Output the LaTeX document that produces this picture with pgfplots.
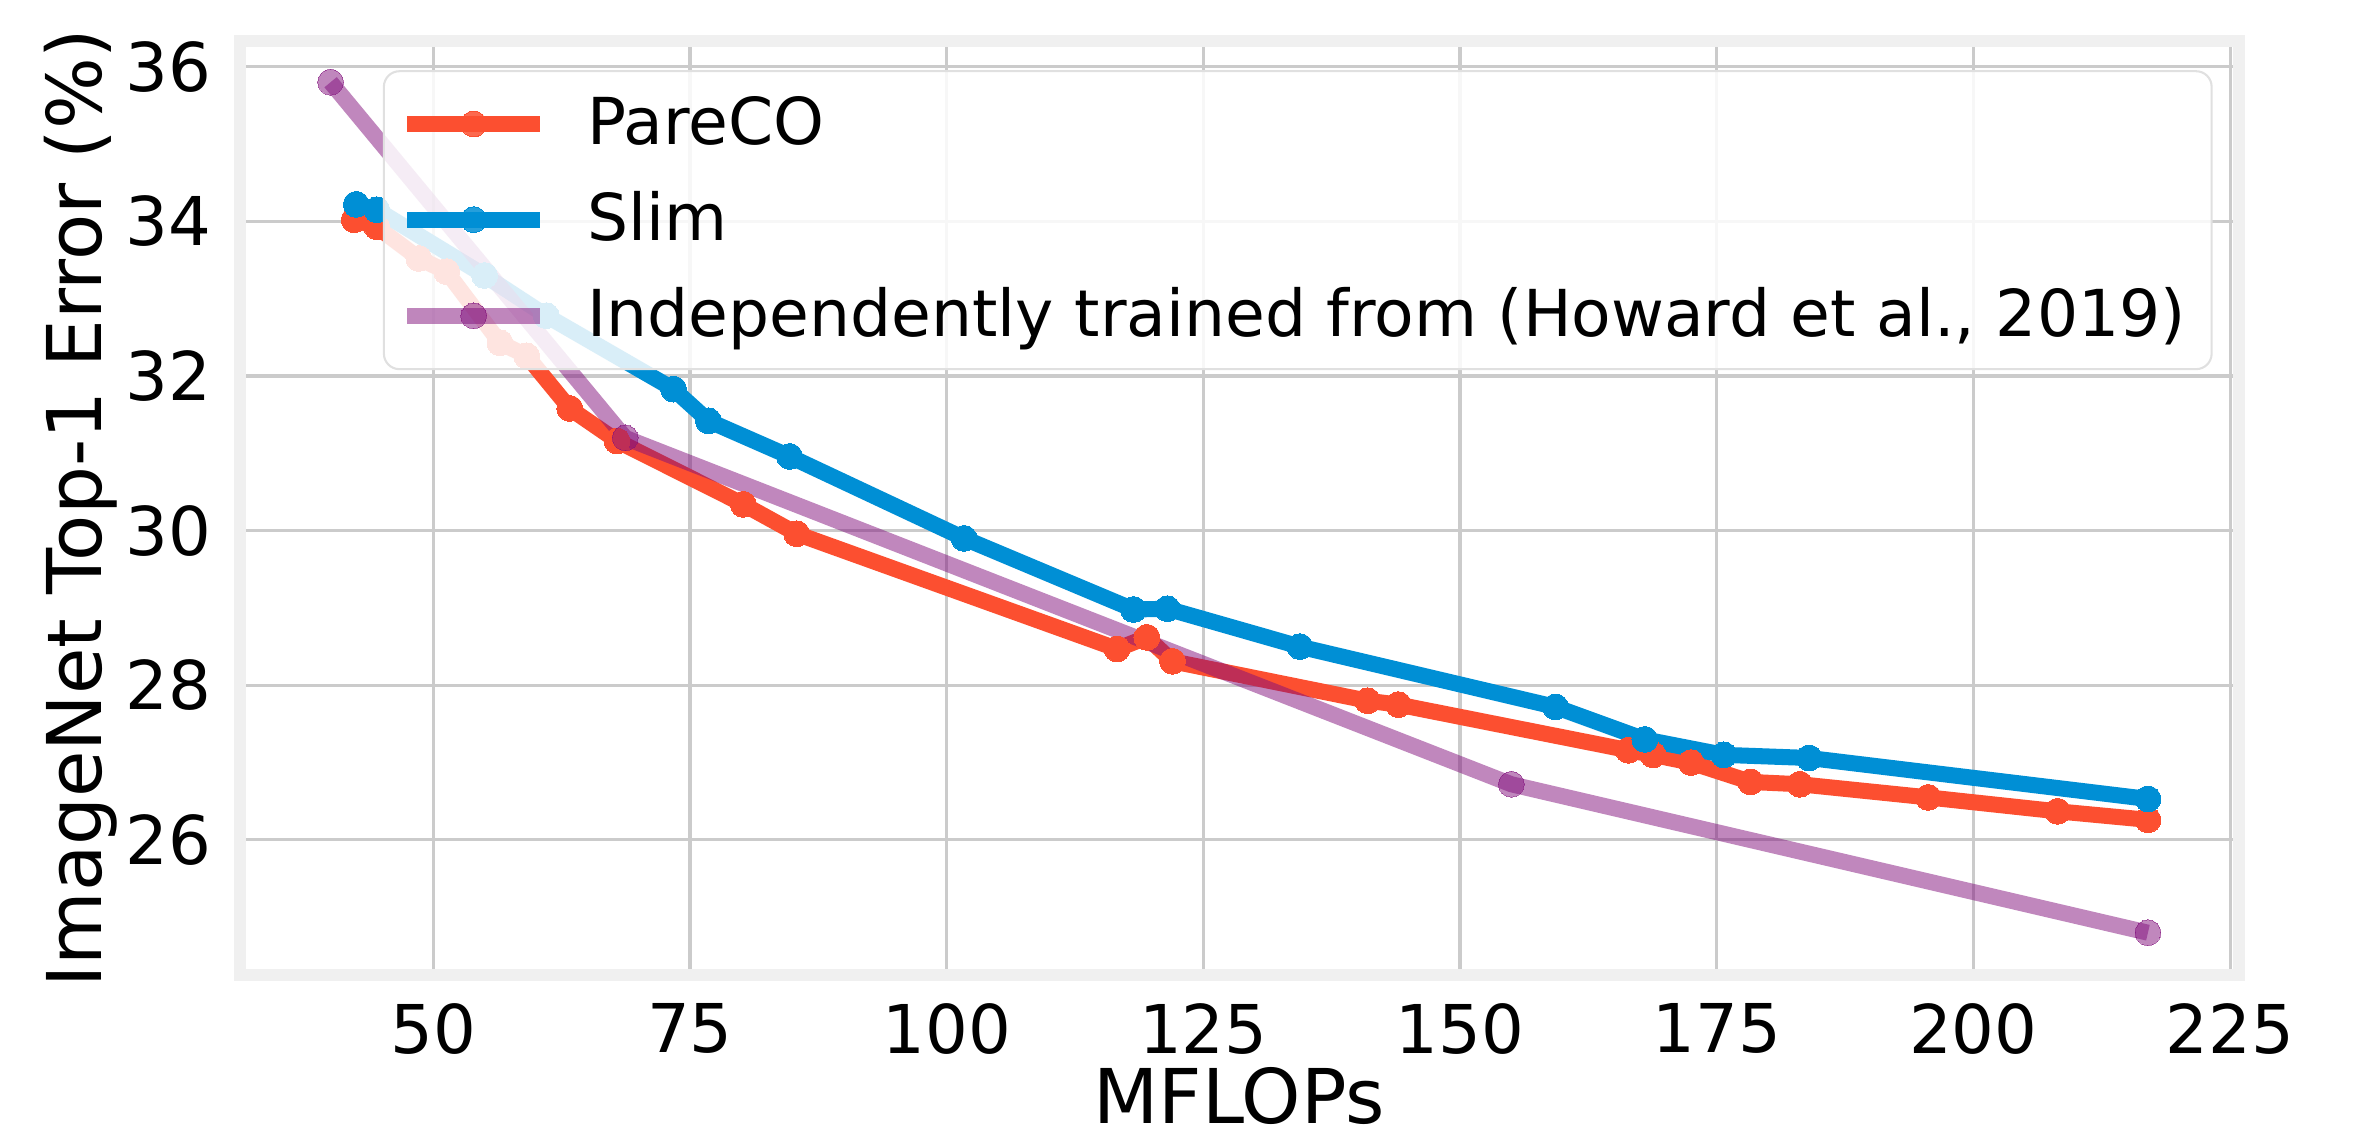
\documentclass[border=0pt]{standalone}
\usepackage{fontspec}
\setmainfont{DejaVu Sans}
\usepackage{pgfplots}
\pgfplotsset{compat=1.18}
\definecolor{cred}{HTML}{FC4F30}
\definecolor{cblue}{HTML}{008FD5}
\definecolor{cpurple}{HTML}{810F7C}
\definecolor{frame}{HTML}{F0F0F0}
\definecolor{gridc}{HTML}{CBCBCB}
\begin{document}
\begin{tikzpicture}
\path[use as bounding box] (-1.628cm,-1.093cm) rectangle (14.372cm,6.623cm);
\begin{axis}[
  scale only axis,
  width=13.576cm, height=6.343cm,
  xmin=31.15, xmax=225.85, ymin=24.25, ymax=36.33,
  xtick={50,75,...,225}, ytick={26,28,...,36},
  major tick length=0pt,
  grid=major,
  major grid style={draw=gridc, line width=0.6pt},
  axis line style={draw=frame, line width=2.4pt},
  /pgf/number format/assume math mode=true,
  tick label style={font=\fontsize{13}{15}\selectfont, black},
  xticklabel style={yshift=-2pt},
  yticklabel style={xshift=-2pt},
  label style={font=\fontsize{14.6}{17}\selectfont},
  xlabel={MFLOPs},
  ylabel={ImageNet Top-1 Error (\%)},
  xlabel style={at={(axis description cs:0.5,-0.129)}, anchor=center},
  ylabel style={at={(axis description cs:-0.0795,0.5)}, anchor=center},
  legend cell align=left,
  legend style={at={(axis description cs:0.0716,0.969)}, anchor=north west,
    font=\fontsize{12.5}{14.5}\selectfont,
    fill=white, fill opacity=0.85, text opacity=1, draw=gridc!60, draw opacity=1,
    rounded corners=3pt, inner xsep=3pt, inner ysep=2.8pt, row sep=3.6pt},
  /tikz/every odd column/.append style={column sep=0.2cm},
  legend image code/.code={\draw[mark repeat=2,mark phase=2] plot coordinates {(0cm,0cm) (0.45cm,0cm) (0.9cm,0cm)};},
  every axis plot/.append style={line width=3.1pt, mark=*, mark size=2.5pt, line join=round},
]
\addplot[color=cred, mark options={fill=cred, draw=cred, line width=0pt}] coordinates {
 (42.3,34.02) (44.5,33.93) (48.6,33.52) (51.3,33.35) (56.5,32.43) (59.1,32.26)
 (63.3,31.58) (67.9,31.16) (80.2,30.34) (85.4,29.96) (116.6,28.47) (119.5,28.62)
 (122.0,28.31) (141.0,27.80) (144.0,27.75) (166.4,27.16) (168.8,27.10) (172.5,27.00)
 (178.3,26.75) (183.1,26.72) (195.6,26.55) (208.2,26.37) (217.0,26.26)
};
\addlegendentry{PareCO}
\addplot[color=cblue, mark options={fill=cblue, draw=cblue, line width=0pt}] coordinates {
 (42.5,34.22) (44.5,34.15) (55.0,33.30) (61.0,32.78) (73.4,31.83) (76.8,31.42)
 (84.7,30.96) (101.7,29.90) (118.2,28.98) (121.5,28.99) (134.4,28.50) (159.3,27.72)
 (168.0,27.30) (175.7,27.10) (184.0,27.06) (217.0,26.53)
};
\addlegendentry{Slim}
\addplot[color=cpurple, opacity=0.5, mark options={fill=cpurple, draw=cpurple, line width=0pt}] coordinates {
 (40.0,35.80) (68.7,31.20) (155.0,26.72) (217.0,24.80)
};
\addlegendentry{Independently trained from (Howard et al., 2019)}
\end{axis}
\end{tikzpicture}
\end{document}
